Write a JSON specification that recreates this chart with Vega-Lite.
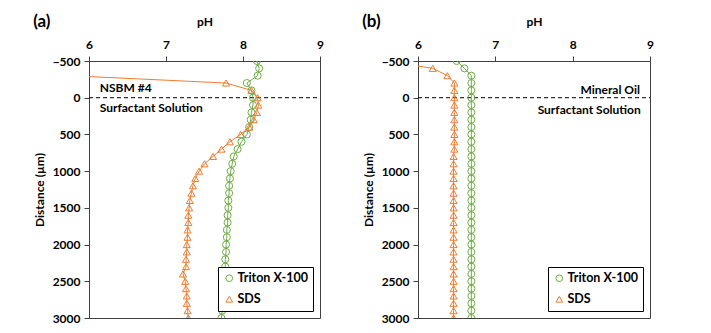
{
"$schema": "https://vega.github.io/schema/vega-lite/v6.json",
"padding": {"left": 32, "top": 12, "right": 5, "bottom": 5},
"config": {
  "font": "Lato",
  "view": {"stroke": "#404040", "strokeWidth": 1},
  "axis": {"labelFont": "Lato", "labelFontWeight": "bold", "labelFontSize": 12, "labelColor": "#000", "titleFont": "Lato", "titleFontWeight": "bold", "titleFontSize": 12, "titleColor": "#000", "domainColor": "#404040", "tickColor": "#404040", "grid": false},
  "legend": {"orient": "bottom-right", "offset": 7, "strokeColor": "#000", "strokeWidth": 1, "padding": 5, "labelFont": "Lato", "labelFontWeight": "bold", "labelFontSize": 12.5, "labelColor": "#000", "symbolStrokeWidth": 1, "symbolSize": 45, "rowPadding": 8, "labelOffset": 2, "fillColor": "white"},
  "title": {"font": "Lato", "fontSize": 17, "fontWeight": "bold", "color": "#000", "anchor": "start", "frame": "bounds", "offset": -16}
},
"datasets": {"d": [
{"panel":"a","series":"Triton X-100","depth":-500,"ph":8.18},
{"panel":"a","series":"Triton X-100","depth":-400,"ph":8.21},
{"panel":"a","series":"Triton X-100","depth":-300,"ph":8.19},
{"panel":"a","series":"Triton X-100","depth":-200,"ph":8.05},
{"panel":"a","series":"Triton X-100","depth":-100,"ph":8.11},
{"panel":"a","series":"Triton X-100","depth":0,"ph":8.13},
{"panel":"a","series":"Triton X-100","depth":100,"ph":8.13},
{"panel":"a","series":"Triton X-100","depth":200,"ph":8.11},
{"panel":"a","series":"Triton X-100","depth":300,"ph":8.10},
{"panel":"a","series":"Triton X-100","depth":400,"ph":8.08},
{"panel":"a","series":"Triton X-100","depth":500,"ph":8.05},
{"panel":"a","series":"Triton X-100","depth":600,"ph":7.98},
{"panel":"a","series":"Triton X-100","depth":700,"ph":7.93},
{"panel":"a","series":"Triton X-100","depth":800,"ph":7.88},
{"panel":"a","series":"Triton X-100","depth":900,"ph":7.86},
{"panel":"a","series":"Triton X-100","depth":1000,"ph":7.84},
{"panel":"a","series":"Triton X-100","depth":1100,"ph":7.83},
{"panel":"a","series":"Triton X-100","depth":1200,"ph":7.82},
{"panel":"a","series":"Triton X-100","depth":1300,"ph":7.82},
{"panel":"a","series":"Triton X-100","depth":1400,"ph":7.81},
{"panel":"a","series":"Triton X-100","depth":1500,"ph":7.81},
{"panel":"a","series":"Triton X-100","depth":1600,"ph":7.80},
{"panel":"a","series":"Triton X-100","depth":1700,"ph":7.80},
{"panel":"a","series":"Triton X-100","depth":1800,"ph":7.79},
{"panel":"a","series":"Triton X-100","depth":1900,"ph":7.79},
{"panel":"a","series":"Triton X-100","depth":2000,"ph":7.78},
{"panel":"a","series":"Triton X-100","depth":2100,"ph":7.78},
{"panel":"a","series":"Triton X-100","depth":2200,"ph":7.77},
{"panel":"a","series":"Triton X-100","depth":2300,"ph":7.77},
{"panel":"a","series":"Triton X-100","depth":2400,"ph":7.76},
{"panel":"a","series":"Triton X-100","depth":2500,"ph":7.76},
{"panel":"a","series":"Triton X-100","depth":2600,"ph":7.75},
{"panel":"a","series":"Triton X-100","depth":2700,"ph":7.75},
{"panel":"a","series":"Triton X-100","depth":2800,"ph":7.74},
{"panel":"a","series":"Triton X-100","depth":2900,"ph":7.73},
{"panel":"a","series":"Triton X-100","depth":3000,"ph":7.72},
{"panel":"a","series":"SDS","depth":-300,"ph":5.75},
{"panel":"a","series":"SDS","depth":-200,"ph":7.78},
{"panel":"a","series":"SDS","depth":-100,"ph":8.11},
{"panel":"a","series":"SDS","depth":0,"ph":8.19},
{"panel":"a","series":"SDS","depth":100,"ph":8.20},
{"panel":"a","series":"SDS","depth":200,"ph":8.18},
{"panel":"a","series":"SDS","depth":300,"ph":8.14},
{"panel":"a","series":"SDS","depth":400,"ph":8.08},
{"panel":"a","series":"SDS","depth":500,"ph":7.97},
{"panel":"a","series":"SDS","depth":600,"ph":7.83},
{"panel":"a","series":"SDS","depth":700,"ph":7.72},
{"panel":"a","series":"SDS","depth":800,"ph":7.61},
{"panel":"a","series":"SDS","depth":900,"ph":7.50},
{"panel":"a","series":"SDS","depth":1000,"ph":7.43},
{"panel":"a","series":"SDS","depth":1100,"ph":7.38},
{"panel":"a","series":"SDS","depth":1200,"ph":7.35},
{"panel":"a","series":"SDS","depth":1300,"ph":7.33},
{"panel":"a","series":"SDS","depth":1400,"ph":7.31},
{"panel":"a","series":"SDS","depth":1500,"ph":7.30},
{"panel":"a","series":"SDS","depth":1600,"ph":7.29},
{"panel":"a","series":"SDS","depth":1700,"ph":7.29},
{"panel":"a","series":"SDS","depth":1800,"ph":7.28},
{"panel":"a","series":"SDS","depth":1900,"ph":7.28},
{"panel":"a","series":"SDS","depth":2000,"ph":7.27},
{"panel":"a","series":"SDS","depth":2100,"ph":7.27},
{"panel":"a","series":"SDS","depth":2200,"ph":7.26},
{"panel":"a","series":"SDS","depth":2300,"ph":7.26},
{"panel":"a","series":"SDS","depth":2400,"ph":7.22},
{"panel":"a","series":"SDS","depth":2500,"ph":7.25},
{"panel":"a","series":"SDS","depth":2600,"ph":7.26},
{"panel":"a","series":"SDS","depth":2700,"ph":7.27},
{"panel":"a","series":"SDS","depth":2800,"ph":7.27},
{"panel":"a","series":"SDS","depth":2900,"ph":7.28},
{"panel":"a","series":"SDS","depth":3000,"ph":7.29},
{"panel":"b","series":"Triton X-100","depth":-500,"ph":6.50},
{"panel":"b","series":"Triton X-100","depth":-400,"ph":6.60},
{"panel":"b","series":"Triton X-100","depth":-300,"ph":6.69},
{"panel":"b","series":"Triton X-100","depth":-200,"ph":6.69},
{"panel":"b","series":"Triton X-100","depth":-100,"ph":6.69},
{"panel":"b","series":"Triton X-100","depth":0,"ph":6.69},
{"panel":"b","series":"Triton X-100","depth":100,"ph":6.69},
{"panel":"b","series":"Triton X-100","depth":200,"ph":6.69},
{"panel":"b","series":"Triton X-100","depth":300,"ph":6.69},
{"panel":"b","series":"Triton X-100","depth":400,"ph":6.69},
{"panel":"b","series":"Triton X-100","depth":500,"ph":6.69},
{"panel":"b","series":"Triton X-100","depth":600,"ph":6.69},
{"panel":"b","series":"Triton X-100","depth":700,"ph":6.69},
{"panel":"b","series":"Triton X-100","depth":800,"ph":6.69},
{"panel":"b","series":"Triton X-100","depth":900,"ph":6.69},
{"panel":"b","series":"Triton X-100","depth":1000,"ph":6.69},
{"panel":"b","series":"Triton X-100","depth":1100,"ph":6.69},
{"panel":"b","series":"Triton X-100","depth":1200,"ph":6.69},
{"panel":"b","series":"Triton X-100","depth":1300,"ph":6.69},
{"panel":"b","series":"Triton X-100","depth":1400,"ph":6.69},
{"panel":"b","series":"Triton X-100","depth":1500,"ph":6.69},
{"panel":"b","series":"Triton X-100","depth":1600,"ph":6.69},
{"panel":"b","series":"Triton X-100","depth":1700,"ph":6.69},
{"panel":"b","series":"Triton X-100","depth":1800,"ph":6.69},
{"panel":"b","series":"Triton X-100","depth":1900,"ph":6.69},
{"panel":"b","series":"Triton X-100","depth":2000,"ph":6.69},
{"panel":"b","series":"Triton X-100","depth":2100,"ph":6.69},
{"panel":"b","series":"Triton X-100","depth":2200,"ph":6.69},
{"panel":"b","series":"Triton X-100","depth":2300,"ph":6.69},
{"panel":"b","series":"Triton X-100","depth":2400,"ph":6.69},
{"panel":"b","series":"Triton X-100","depth":2500,"ph":6.69},
{"panel":"b","series":"Triton X-100","depth":2600,"ph":6.69},
{"panel":"b","series":"Triton X-100","depth":2700,"ph":6.69},
{"panel":"b","series":"Triton X-100","depth":2800,"ph":6.69},
{"panel":"b","series":"Triton X-100","depth":2900,"ph":6.69},
{"panel":"b","series":"Triton X-100","depth":3000,"ph":6.69},
{"panel":"b","series":"SDS","depth":-500,"ph":5.60},
{"panel":"b","series":"SDS","depth":-400,"ph":6.19},
{"panel":"b","series":"SDS","depth":-300,"ph":6.38},
{"panel":"b","series":"SDS","depth":-200,"ph":6.47},
{"panel":"b","series":"SDS","depth":-100,"ph":6.47},
{"panel":"b","series":"SDS","depth":0,"ph":6.47},
{"panel":"b","series":"SDS","depth":100,"ph":6.47},
{"panel":"b","series":"SDS","depth":200,"ph":6.47},
{"panel":"b","series":"SDS","depth":300,"ph":6.47},
{"panel":"b","series":"SDS","depth":400,"ph":6.47},
{"panel":"b","series":"SDS","depth":500,"ph":6.47},
{"panel":"b","series":"SDS","depth":600,"ph":6.47},
{"panel":"b","series":"SDS","depth":700,"ph":6.47},
{"panel":"b","series":"SDS","depth":800,"ph":6.46},
{"panel":"b","series":"SDS","depth":900,"ph":6.46},
{"panel":"b","series":"SDS","depth":1000,"ph":6.46},
{"panel":"b","series":"SDS","depth":1100,"ph":6.46},
{"panel":"b","series":"SDS","depth":1200,"ph":6.46},
{"panel":"b","series":"SDS","depth":1300,"ph":6.46},
{"panel":"b","series":"SDS","depth":1400,"ph":6.46},
{"panel":"b","series":"SDS","depth":1500,"ph":6.46},
{"panel":"b","series":"SDS","depth":1600,"ph":6.46},
{"panel":"b","series":"SDS","depth":1700,"ph":6.46},
{"panel":"b","series":"SDS","depth":1800,"ph":6.46},
{"panel":"b","series":"SDS","depth":1900,"ph":6.46},
{"panel":"b","series":"SDS","depth":2000,"ph":6.46},
{"panel":"b","series":"SDS","depth":2100,"ph":6.46},
{"panel":"b","series":"SDS","depth":2200,"ph":6.46},
{"panel":"b","series":"SDS","depth":2300,"ph":6.46},
{"panel":"b","series":"SDS","depth":2400,"ph":6.46},
{"panel":"b","series":"SDS","depth":2500,"ph":6.46},
{"panel":"b","series":"SDS","depth":2600,"ph":6.46},
{"panel":"b","series":"SDS","depth":2700,"ph":6.46},
{"panel":"b","series":"SDS","depth":2800,"ph":6.46},
{"panel":"b","series":"SDS","depth":2900,"ph":6.46},
{"panel":"b","series":"SDS","depth":3000,"ph":6.46}
]},
"spacing": 37,
"resolve": {"scale": {"color": "independent", "shape": "independent"}, "legend": {"color": "independent", "shape": "independent"}},
"hconcat": [
{
  "width": 231, "height": 257,
  "title": {"text": "(a)"},
  "encoding": {
    "x": {"field": "ph", "type": "quantitative", "scale": {"domain": [6, 9], "nice": false, "zero": false}, "axis": {"orient": "top", "values": [6, 7, 8, 9], "title": "pH", "format": "d", "labelPadding": 5, "titlePadding": 10, "labelOverlap": false, "labelFlush": false}},
    "y": {"field": "depth", "type": "quantitative", "scale": {"domain": [-500, 3000], "reverse": true, "nice": false, "zero": false}, "axis": {"values": [-500, 0, 500, 1000, 1500, 2000, 2500, 3000], "title": "Distance (µm)", "format": "d", "labelPadding": 4, "titlePadding": 6, "labelOverlap": false, "labelFlush": false, "labelBound": false}}
  },
  "layer": [
    {"data": {"values": [{"ph": 6, "ph2": 9, "depth": 0}]},
     "mark": {"type": "rule", "strokeDash": [4, 3], "color": "#000", "strokeWidth": 1},
     "encoding": {"x2": {"field": "ph2"}}},
    {"data": {"name": "d"}, "transform": [{"filter": "datum.panel === 'a'"}],
     "mark": {"type": "line", "clip": true, "strokeWidth": 1},
     "encoding": {
       "order": {"field": "depth", "type": "quantitative"},
       "color": {"field": "series", "type": "nominal", "scale": {"domain": ["Triton X-100", "SDS"], "range": ["#70AD47", "#ED7D31"]}, "legend": {"title": null}}
     }},
    {"data": {"name": "d"}, "transform": [{"filter": "datum.panel === 'a' && datum.ph >= 6"}],
     "mark": {"type": "point", "clip": true, "filled": false, "size": 50, "strokeWidth": 1, "opacity": 1},
     "encoding": {
       "color": {"field": "series", "type": "nominal", "scale": {"domain": ["Triton X-100", "SDS"], "range": ["#70AD47", "#ED7D31"]}, "legend": {"title": null}},
       "shape": {"field": "series", "type": "nominal", "scale": {"domain": ["Triton X-100", "SDS"], "range": ["circle", "triangle-up"]}, "legend": {"title": null}}
     }},
    {"data": {"values": [{"label": "NSBM #4", "ph": 6.14, "depth": -130}, {"label": "Surfactant Solution", "ph": 6.14, "depth": 140}]},
     "mark": {"type": "text", "align": "left", "baseline": "middle", "fontWeight": "bold", "fontSize": 12, "color": "#000"},
     "encoding": {"text": {"field": "label"}}}
  ]
},
{
  "width": 232, "height": 257,
  "title": {"text": "(b)"},
  "encoding": {
    "x": {"field": "ph", "type": "quantitative", "scale": {"domain": [6, 9], "nice": false, "zero": false}, "axis": {"orient": "top", "values": [6, 7, 8, 9], "title": "pH", "format": "d", "labelPadding": 5, "titlePadding": 10, "labelOverlap": false, "labelFlush": false}},
    "y": {"field": "depth", "type": "quantitative", "scale": {"domain": [-500, 3000], "reverse": true, "nice": false, "zero": false}, "axis": {"values": [-500, 0, 500, 1000, 1500, 2000, 2500, 3000], "title": "Distance (µm)", "format": "d", "labelPadding": 4, "titlePadding": 6, "labelOverlap": false, "labelFlush": false, "labelBound": false}}
  },
  "layer": [
    {"data": {"values": [{"ph": 6, "ph2": 9, "depth": 0}]},
     "mark": {"type": "rule", "strokeDash": [4, 3], "color": "#000", "strokeWidth": 1},
     "encoding": {"x2": {"field": "ph2"}}},
    {"data": {"name": "d"}, "transform": [{"filter": "datum.panel === 'b'"}],
     "mark": {"type": "line", "clip": true, "strokeWidth": 1},
     "encoding": {
       "order": {"field": "depth", "type": "quantitative"},
       "color": {"field": "series", "type": "nominal", "scale": {"domain": ["Triton X-100", "SDS"], "range": ["#70AD47", "#ED7D31"]}, "legend": {"title": null}}
     }},
    {"data": {"name": "d"}, "transform": [{"filter": "datum.panel === 'b' && datum.ph >= 6"}],
     "mark": {"type": "point", "clip": true, "filled": false, "size": 50, "strokeWidth": 1, "opacity": 1},
     "encoding": {
       "color": {"field": "series", "type": "nominal", "scale": {"domain": ["Triton X-100", "SDS"], "range": ["#70AD47", "#ED7D31"]}, "legend": {"title": null}},
       "shape": {"field": "series", "type": "nominal", "scale": {"domain": ["Triton X-100", "SDS"], "range": ["circle", "triangle-up"]}, "legend": {"title": null}}
     }},
    {"data": {"values": [{"label": "Mineral Oil", "ph": 8.87, "depth": -105}, {"label": "Surfactant Solution", "ph": 8.88, "depth": 168}]},
     "mark": {"type": "text", "align": "right", "baseline": "middle", "fontWeight": "bold", "fontSize": 12, "color": "#000"},
     "encoding": {"text": {"field": "label"}}}
  ]
}
]
}
